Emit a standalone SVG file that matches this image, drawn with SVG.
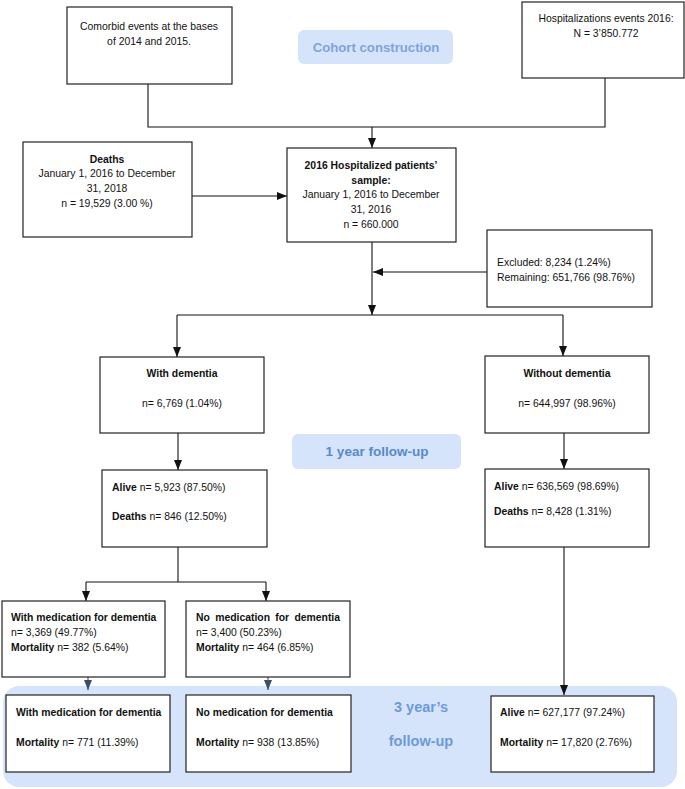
<svg xmlns="http://www.w3.org/2000/svg" width="685" height="789" viewBox="0 0 685 789">
<defs>
<style>
.box{fill:#fff;stroke:#222;stroke-width:1.2}
.t{font-family:"Liberation Sans",Arial,sans-serif;font-size:10.4px;fill:#111}
.c{text-anchor:middle}
.b{font-weight:bold}
.lbl{fill:#d6e4fb}
.lt{font-family:"Liberation Sans",Arial,sans-serif;font-weight:bold;text-anchor:middle}
.ln{fill:none;stroke:#111;stroke-width:1.1}
.lg{fill:none;stroke:#3d4f66;stroke-width:1.1}
</style>
<marker id="ah" markerUnits="userSpaceOnUse" markerWidth="10" markerHeight="10" viewBox="0 0 10 10" refX="10" refY="5" orient="auto">
<path d="M0,1 L10,5 L0,9 Z" fill="#111"/>
</marker>
<marker id="ag" markerUnits="userSpaceOnUse" markerWidth="10" markerHeight="10" viewBox="0 0 10 10" refX="10" refY="5" orient="auto">
<path d="M0,1 L10,5 L0,9 Z" fill="#3d4f66"/>
</marker>
</defs>

<g id="band-3year">
<rect x="3" y="686" width="674" height="101" rx="16" class="lbl"/>
<text class="lt" x="421" y="712" font-size="14.5" fill="#6d9ad8">3 year’s</text>
<text class="lt" x="421" y="746" font-size="14.5" fill="#6d9ad8">follow-up</text>
</g>

<g id="label-cohort">
<rect x="298" y="30" width="155" height="34" rx="6" class="lbl"/>
<text class="lt" x="376" y="52" font-size="13.2" fill="#7ea4dc">Cohort construction</text>
</g>

<g id="label-1year">
<rect x="292" y="434" width="169" height="35" rx="6" class="lbl"/>
<text class="lt" x="377" y="456" font-size="13.5" fill="#5b88c9">1 year follow-up</text>
</g>

<g id="connectors">
<polyline class="ln" points="148,84 148,127 605,127 605,78"/>
<line class="ln" x1="372" y1="127" x2="372" y2="148" marker-end="url(#ah)"/>
<line class="ln" x1="192" y1="196" x2="287" y2="196" marker-end="url(#ah)"/>
<line class="ln" x1="372" y1="242" x2="372" y2="315" marker-end="url(#ah)"/>
<line class="ln" x1="487" y1="272" x2="373" y2="272" marker-end="url(#ah)"/>
<line class="ln" x1="177" y1="315" x2="563" y2="315"/>
<line class="ln" x1="177" y1="315" x2="177" y2="357" marker-end="url(#ah)"/>
<line class="ln" x1="563" y1="315" x2="563" y2="356" marker-end="url(#ah)"/>
<line class="ln" x1="178" y1="433" x2="178" y2="470" marker-end="url(#ah)"/>
<line class="ln" x1="564" y1="433" x2="564" y2="469" marker-end="url(#ah)"/>
<line class="ln" x1="178" y1="547" x2="178" y2="582"/>
<line class="ln" x1="86" y1="582" x2="266" y2="582"/>
<line class="ln" x1="86" y1="582" x2="86" y2="601" marker-end="url(#ah)"/>
<line class="ln" x1="266" y1="582" x2="266" y2="601" marker-end="url(#ah)"/>
<line class="ln" x1="564" y1="547" x2="564" y2="695" marker-end="url(#ah)"/>
<line class="lg" x1="88" y1="677" x2="88" y2="690" marker-end="url(#ag)"/>
<line class="lg" x1="268" y1="677" x2="268" y2="690" marker-end="url(#ag)"/>
</g>

<g id="comorbid">
<rect class="box" x="67" y="7" width="165" height="77"/>
<text class="t c" x="149" y="30">Comorbid events at the bases</text>
<text class="t c" x="149" y="45">of 2014 and 2015.</text>
</g>

<g id="hospitalizations">
<rect class="box" x="522" y="2" width="162" height="76"/>
<text class="t c" x="606" y="22">Hospitalizations events 2016:</text>
<text class="t c" x="606" y="37">N = 3’850.772</text>
</g>

<g id="deaths">
<rect class="box" x="23" y="142" width="169" height="95"/>
<text class="t c b" x="107" y="163">Deaths</text>
<text class="t c" x="107" y="177">January 1, 2016 to December</text>
<text class="t c" x="107" y="192">31, 2018</text>
<text class="t c" x="107" y="207">n = 19,529 (3.00 %)</text>
</g>

<g id="sample">
<rect class="box" x="287" y="148" width="169" height="94"/>
<text class="t c b" x="371" y="169">2016 Hospitalized patients’</text>
<text class="t c b" x="371" y="184">sample:</text>
<text class="t c" x="371" y="198">January 1, 2016 to December</text>
<text class="t c" x="371" y="213">31, 2016</text>
<text class="t c" x="371" y="228">n = 660.000</text>
</g>

<g id="excluded">
<rect class="box" x="487" y="230" width="165" height="77"/>
<text class="t" x="497" y="266">Excluded: 8,234 (1.24%)</text>
<text class="t" x="497" y="281">Remaining: 651,766 (98.76%)</text>
</g>

<g id="with-dementia">
<rect class="box" x="100" y="357" width="164" height="76"/>
<text class="t c b" x="182" y="377">With dementia</text>
<text class="t c" x="182" y="407">n= 6,769 (1.04%)</text>
</g>

<g id="without-dementia">
<rect class="box" x="485" y="356" width="164" height="77"/>
<text class="t c b" x="567" y="377">Without dementia</text>
<text class="t c" x="567" y="407">n= 644,997 (98.96%)</text>
</g>

<g id="alive-with">
<rect class="box" x="102" y="470" width="165" height="77"/>
<text class="t" x="112" y="491"><tspan class="b">Alive</tspan> n= 5,923 (87.50%)</text>
<text class="t" x="112" y="520"><tspan class="b">Deaths</tspan> n= 846 (12.50%)</text>
</g>

<g id="alive-without">
<rect class="box" x="485" y="469" width="164" height="78"/>
<text class="t" x="494" y="490"><tspan class="b">Alive</tspan> n= 636,569 (98.69%)</text>
<text class="t" x="494" y="515"><tspan class="b">Deaths</tspan> n= 8,428 (1.31%)</text>
</g>

<g id="with-med-1y">
<rect class="box" x="2" y="601" width="163" height="76"/>
<text class="t b" x="11" y="621">With medication for dementia</text>
<text class="t" x="11" y="636">n= 3,369 (49.77%)</text>
<text class="t" x="11" y="651"><tspan class="b">Mortality</tspan> n= 382 (5.64%)</text>
</g>

<g id="no-med-1y">
<rect class="box" x="186" y="601" width="164" height="76"/>
<text class="t b" x="196" y="621" word-spacing="2.4">No medication for dementia</text>
<text class="t" x="196" y="636">n= 3,400 (50.23%)</text>
<text class="t" x="196" y="651"><tspan class="b">Mortality</tspan> n= 464 (6.85%)</text>
</g>

<g id="with-med-3y">
<rect class="box" x="6" y="695" width="164" height="77"/>
<text class="t b" x="16" y="716">With medication for dementia</text>
<text class="t" x="16" y="746"><tspan class="b">Mortality</tspan> n= 771 (11.39%)</text>
</g>

<g id="no-med-3y">
<rect class="box" x="186" y="695" width="165" height="77"/>
<text class="t b" x="196" y="716">No medication for dementia</text>
<text class="t" x="196" y="746"><tspan class="b">Mortality</tspan> n= 938 (13.85%)</text>
</g>

<g id="alive-3y">
<rect class="box" x="491" y="696" width="163" height="76"/>
<text class="t" x="500" y="716"><tspan class="b">Alive</tspan> n= 627,177 (97.24%)</text>
<text class="t" x="500" y="746"><tspan class="b">Mortality</tspan> n= 17,820 (2.76%)</text>
</g>
</svg>
